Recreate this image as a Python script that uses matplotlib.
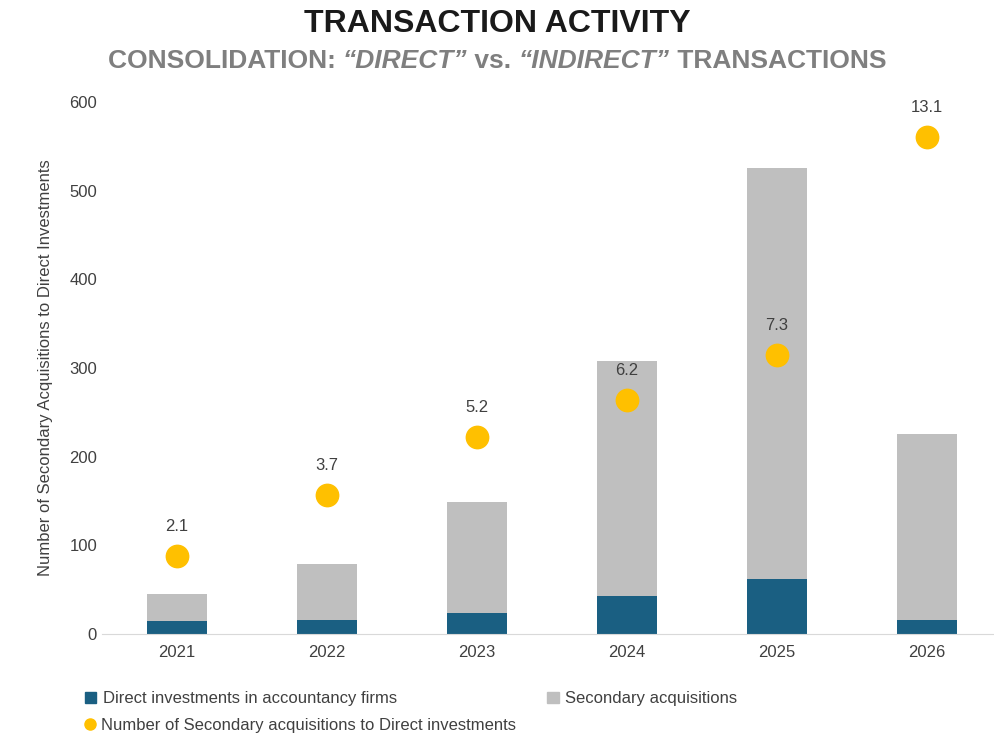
import matplotlib.pyplot as plt
from matplotlib.lines import Line2D
from matplotlib.patches import Patch

plt.rcParams['font.family'] = ['Liberation Sans', 'DejaVu Sans']

years = ['2021', '2022', '2023', '2024', '2025', '2026']
direct = [15, 16, 24, 43, 62, 16]
secondary = [30, 63, 125, 265, 463, 209]
dot_pos = [88, 157, 222, 264, 315, 561]
ratio = [2.1, 3.7, 5.2, 6.2, 7.3, 13.1]

blue = '#1a5f82'
grey = '#bfbfbf'
gold = '#ffc000'

fig = plt.figure(figsize=(9.94, 7.42), dpi=100)
ax = fig.add_axes([0.1026, 0.1456, 0.9054, 0.717])

x = range(len(years))
ax.bar(x, direct, width=0.4, color=blue)
ax.bar(x, secondary, width=0.4, bottom=direct, color=grey)
ax.scatter(x, dot_pos, s=260, color=gold, zorder=3)
for xi, yp, r in zip(x, dot_pos, ratio):
    ax.annotate(f'{r}', (xi, yp), xytext=(0, 18), textcoords='offset points',
                ha='center', fontsize=12, color='#404040')

ax.set_xlim(-0.5, 5.5)
ax.set_ylim(0, 600)
ax.set_xticks(list(x))
ax.set_xticklabels(years)
ax.set_yticks(range(0, 601, 100))
ax.tick_params(length=0, labelsize=12, colors='#404040')
ax.tick_params(axis='x', pad=8)
for s in ['top', 'right', 'left']:
    ax.spines[s].set_visible(False)
ax.spines['bottom'].set_color('#d9d9d9')
ax.set_ylabel('Number of Secondary Acquisitions to Direct Investments',
              fontsize=12, color='#404040', labelpad=12)

fig.text(0.5, 0.968, 'TRANSACTION ACTIVITY', ha='center', va='center',
         fontsize=23, fontweight='bold', color='#1a1a1a')

# subtitle built from pieces so the quoted words can be bold italic
pieces = [('CONSOLIDATION: ', 'normal'), ('“DIRECT”', 'italic'), (' vs. ', 'normal'),
          ('“INDIRECT”', 'italic'), (' TRANSACTIONS', 'normal')]
renderer = fig.canvas.get_renderer()
texts = []
for s, st in pieces:
    t = fig.text(0, 0.918, s, va='center', fontsize=19, fontweight='bold',
                 style=st, color='#7f7f7f')
    texts.append(t)
widths = [t.get_window_extent(renderer).width for t in texts]
xpos = (fig.bbox.width - sum(widths)) / 2
for t, w in zip(texts, widths):
    t.set_x(xpos / fig.bbox.width)
    xpos += w

handles1 = [Patch(color=blue, label='Direct investments in accountancy firms'),
            Patch(color=grey, label='Secondary acquisitions')]
fig.legend(handles=handles1, loc='center left', bbox_to_anchor=(0.07, 0.058),
           ncol=2, frameon=False, fontsize=12, handlelength=0.7,
           handleheight=0.7, columnspacing=9, handletextpad=0.4,
           labelcolor='#404040')
handles2 = [Line2D([], [], marker='o', ls='', color=gold, markersize=8,
                   label='Number of Secondary acquisitions to Direct investments')]
fig.legend(handles=handles2, loc='center left', bbox_to_anchor=(0.07, 0.022),
           frameon=False, fontsize=12, handlelength=0.7, handletextpad=0.3,
           labelcolor='#404040')

fig.savefig('out.png', dpi=100)
